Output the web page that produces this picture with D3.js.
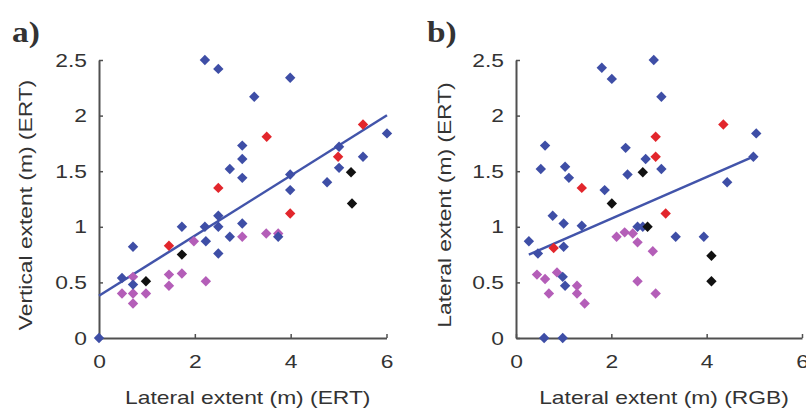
<!DOCTYPE html>
<html>
<head>
<meta charset="utf-8">
<script src="https://cdn.jsdelivr.net/npm/d3@7"></script>
<style>
  html, body { margin: 0; padding: 0; background: #fff; }
  svg { display: block; }
  .tick text { font-family: "Liberation Sans", Arial, sans-serif; font-size: 19px; fill: #333; }
  .axis-title { font-family: "Liberation Sans", Arial, sans-serif; font-size: 19px; fill: #333; }
  .panel-label { font-family: "Liberation Serif", "Times New Roman", serif; font-weight: bold; font-size: 29px; fill: #333; }
</style>
</head>
<body>
<svg id="chart" width="806" height="411"></svg>
<script>
// Panel a: vertical vs lateral extent (ERT)
const aBlueX = [2.21, 2.49, 3.24, 3.99, 2.99, 2.99, 2.73, 2.99, 6.01, 5.01, 5.51, 5.01, 4.76, 3.99, 3.99, 2.99, 2.73, 3.74, 2.49, 2.21, 2.49, 2.23, 2.49, 1.73, 0.71, 0.48, 0.71, 0.00];
const aBlueY = [2.50, 2.42, 2.17, 2.34, 1.73, 1.61, 1.52, 1.44, 1.84, 1.72, 1.63, 1.53, 1.40, 1.47, 1.33, 1.03, 0.91, 0.91, 1.10, 1.00, 1.00, 0.87, 0.76, 1.00, 0.82, 0.54, 0.48, 0.00];
const aRedX = [2.49, 3.50, 5.51, 4.99, 3.99, 1.46];
const aRedY = [1.35, 1.81, 1.92, 1.63, 1.12, 0.83];
const aBlackX = [5.26, 5.28, 1.73, 0.98];
const aBlackY = [1.49, 1.21, 0.75, 0.51];
const aPinkX = [2.99, 3.49, 3.74, 1.98, 0.71, 1.46, 1.73, 1.46, 2.23, 0.48, 0.71, 0.98, 0.71];
const aPinkY = [0.91, 0.94, 0.94, 0.87, 0.55, 0.57, 0.58, 0.47, 0.51, 0.40, 0.40, 0.40, 0.31];
// fitted line: intercept, slope, x range
const aFit = { b0: 0.38, b1: 0.27, x0: 0, x1: 6.01 };

// Panel b: lateral extent ERT vs RGB
const bBlueX = [1.80, 2.01, 2.89, 3.05, 0.61, 0.52, 1.03, 1.11, 1.86, 2.30, 2.72, 2.34, 3.05, 5.04, 4.98, 4.43, 2.55, 2.66, 3.35, 3.94, 0.77, 1.00, 1.38, 0.27, 0.46, 1.00, 0.98, 1.03, 0.59, 0.98];
const bBlueY = [2.43, 2.33, 2.50, 2.17, 1.73, 1.52, 1.54, 1.44, 1.33, 1.71, 1.61, 1.47, 1.52, 1.84, 1.63, 1.40, 1.00, 1.00, 0.91, 0.91, 1.10, 1.03, 1.01, 0.87, 0.76, 0.82, 0.55, 0.47, 0.00, 0.00];
const bRedX = [1.38, 2.93, 4.35, 2.93, 3.14, 0.79];
const bRedY = [1.35, 1.81, 1.92, 1.63, 1.12, 0.81];
const bBlackX = [2.66, 2.01, 2.76, 4.10, 4.10];
const bBlackY = [1.49, 1.21, 1.00, 0.74, 0.51];
const bPinkX = [2.11, 2.28, 2.45, 2.55, 2.87, 0.44, 0.61, 0.86, 0.69, 1.28, 1.28, 1.44, 2.55, 2.93];
const bPinkY = [0.91, 0.95, 0.94, 0.86, 0.78, 0.57, 0.53, 0.59, 0.40, 0.47, 0.40, 0.31, 0.51, 0.40];
const bFit = { b0: 0.70, b1: 0.187, x0: 0.27, x1: 4.98 };

const xTicks = [0, 2, 4, 6];
const yTicks = [0, 0.5, 1, 1.5, 2, 2.5];

const colors = { blue: "#3e4ea6", red: "#e2262c", black: "#111111", pink: "#b45eb8", fit: "#4254aa", axis: "#505050" };
const WIDEN = 1.2; // the lettering is set wider than Liberation Sans

const svg = d3.select("#chart");

function widen(sel, k) {
  sel.each(function () {
    const w = this.getComputedTextLength();
    d3.select(this).attr("textLength", w * k).attr("lengthAdjust", "spacingAndGlyphs");
  });
}

function diamond(r) {
  const p = d3.path();
  p.moveTo(0, -r); p.lineTo(r, 0); p.lineTo(0, r); p.lineTo(-r, 0); p.closePath();
  return p.toString();
}

function panel(opt) {
  const x = d3.scaleLinear().domain([0, 6]).range([opt.left, opt.right]);
  const y = d3.scaleLinear().domain([0, 2.5]).range([338, 60]);
  const g = svg.append("g");

  // axes (box off, inward ticks)
  const ax = g.append("g").attr("transform", `translate(0,${y(0)})`)
    .call(d3.axisBottom(x).tickValues(xTicks).tickFormat(d3.format("d")).tickSizeInner(-4).tickSizeOuter(0).tickPadding(17));
  const ay = g.append("g").attr("transform", `translate(${x(0)},0)`)
    .call(d3.axisLeft(y).tickValues(yTicks).tickFormat(d => String(d)).tickSizeInner(-4).tickSizeOuter(0).tickPadding(12));
  [ax, ay].forEach(a => {
    a.select(".domain").attr("stroke", colors.axis).attr("stroke-width", 2);
    a.selectAll(".tick line").attr("stroke", colors.axis).attr("stroke-width", 1.5);
    widen(a.selectAll(".tick text"), WIDEN);
  });

  // fitted regression line
  g.append("line")
    .attr("x1", x(opt.fit.x0)).attr("y1", y(opt.fit.b0 + opt.fit.b1 * opt.fit.x0))
    .attr("x2", x(opt.fit.x1)).attr("y2", y(opt.fit.b0 + opt.fit.b1 * opt.fit.x1))
    .attr("stroke", colors.fit).attr("stroke-width", 2.5);

  // scatter groups
  const groups = [
    { xs: opt.pinkX, ys: opt.pinkY, c: colors.pink },
    { xs: opt.blueX, ys: opt.blueY, c: colors.blue },
    { xs: opt.redX, ys: opt.redY, c: colors.red },
    { xs: opt.blackX, ys: opt.blackY, c: colors.black }
  ];
  const shape = diamond(5.2);
  groups.forEach(gr => {
    g.append("g").selectAll("path")
      .data(d3.zip(gr.xs, gr.ys))
      .join("path")
      .attr("d", shape)
      .attr("transform", d => `translate(${x(d[0])},${y(d[1])})`)
      .attr("fill", gr.c);
  });

  const xt = g.append("text").attr("class", "axis-title")
    .attr("x", (opt.left + opt.right) / 2 + 5).attr("y", 404)
    .attr("text-anchor", "middle").text(opt.xTitle);
  const yt = g.append("text").attr("class", "axis-title")
    .attr("transform", `translate(${opt.yTitleX},205) rotate(-90)`)
    .attr("text-anchor", "middle").text(opt.yTitle);
  widen(xt, WIDEN);
  widen(yt, WIDEN);
  const lb = g.append("text").attr("class", "panel-label")
    .attr("x", opt.labelX).attr("y", 42).text(opt.label);
  widen(lb, 1.15);
}

panel({ left: 99, right: 386.5, blueX: aBlueX, blueY: aBlueY, redX: aRedX, redY: aRedY,
  blackX: aBlackX, blackY: aBlackY, pinkX: aPinkX, pinkY: aPinkY, fit: aFit,
  xTitle: "Lateral extent (m) (ERT)", yTitle: "Vertical extent (m) (ERT)", yTitleX: 32, label: "a)", labelX: 12 });
panel({ left: 516, right: 802, blueX: bBlueX, blueY: bBlueY, redX: bRedX, redY: bRedY,
  blackX: bBlackX, blackY: bBlackY, pinkX: bPinkX, pinkY: bPinkY, fit: bFit,
  xTitle: "Lateral extent (m) (RGB)", yTitle: "Lateral extent (m) (ERT)", yTitleX: 451, label: "b)", labelX: 427 });
</script>
</body>
</html>
